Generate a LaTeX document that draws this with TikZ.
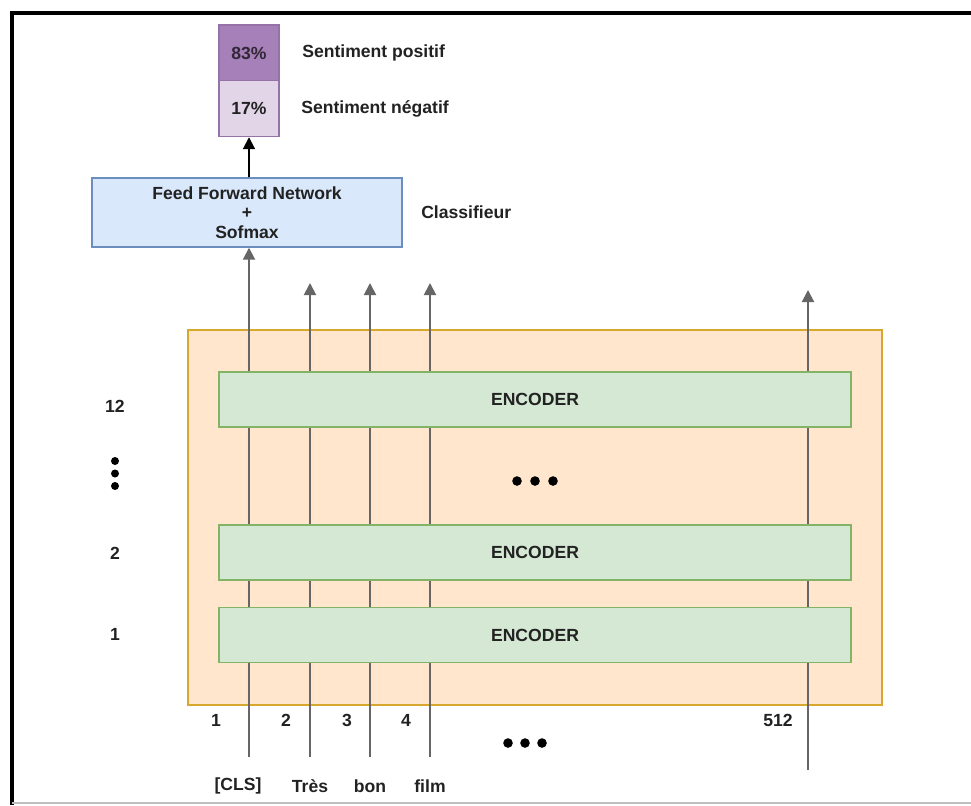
\documentclass[tikz,border=0pt]{standalone}
\usepackage{fontspec}
\setmainfont{Liberation Sans}
\usepackage[HTML]{xcolor}
\usetikzlibrary{positioning, arrows.meta}

\definecolor{posfill}{HTML}{A680B8}
\definecolor{negfill}{HTML}{E1D5E7}
\definecolor{purpline}{HTML}{9673A6}
\definecolor{ffnfill}{HTML}{DAE8FC}
\definecolor{ffnline}{HTML}{6C8EBF}
\definecolor{bertfill}{HTML}{FFE6CC}
\definecolor{bertline}{HTML}{D6A82E}
\definecolor{encfill}{HTML}{D5E8D4}
\definecolor{encline}{HTML}{82B366}
\definecolor{flow}{HTML}{666666}
\definecolor{txt}{HTML}{222222}

\begin{document}
\begin{tikzpicture}[x=0.025cm,y=-0.025cm,
  font=\bfseries\fontsize{12.5}{14}\selectfont, text=txt,
  outcell/.style={draw=purpline, line width=1pt, minimum width=1.5cm, minimum height=1.4cm, inner sep=0pt},
  encbox/.style={draw=encline, fill=encfill, line width=1pt, minimum width=15.8cm, minimum height=1.375cm, inner sep=0pt},
  tokarrow/.style={draw=flow, line width=1.4pt, -{Triangle[length=3mm,width=3mm]}}]
\useasboundingbox (0,0) rectangle (971,805);
\fill[white] (0,0) rectangle (971,805);
% frame
\draw[line width=3pt] (12,805) -- (12,13) -- (971,13);
\draw[gray!50, line width=1pt] (12,803) -- (971,803);

% output probabilities
\node[outcell, fill=posfill, text=posfill!30!black] (pos) at (249,53) {83\%};
\node[outcell, fill=negfill] (neg) at (249,108.5) {17\%};
\node[anchor=west, inner sep=0pt] (poslab) at (302,53) {Sentiment positif};
\node[anchor=west, inner sep=0pt] (neglab) at (301,109) {Sentiment négatif};

% classifier
\node[draw=ffnline, fill=ffnfill, line width=1pt, minimum width=7.75cm, minimum height=1.725cm,
  align=center, inner sep=0pt] (ffn) at (247,212.5) {Feed Forward Network\\+\\Sofmax};
\node[anchor=west, inner sep=0pt] (clf) at (421,212) {Classifieur};
\draw[line width=1.4pt, -{Triangle[length=3mm,width=3mm]}] (ffn.north -| neg) -- (neg.south);

% BERT block
\node[draw=bertline, fill=bertfill, line width=1.6pt, minimum width=17.35cm, minimum height=9.375cm,
  inner sep=0pt] (bert) at (535,517.5) {};

% tokens
\node (cls) at (238,786) {[CLS]};
\node (tres) at (310,786) {Très};
\node (bon) at (370,786) {bon};
\node (film) at (430,786) {film};
\coordinate (in1) at (249,757);
\coordinate (in2) at (310,757);
\coordinate (in3) at (370,757);
\coordinate (in4) at (430,757);
\coordinate (in512) at (808,770);
\coordinate (out2) at (310,283);
\coordinate (out3) at (370,283);
\coordinate (out4) at (430,283);
\coordinate (out512) at (808,290);

\draw[tokarrow] (in1) -- (in1 |- ffn.south);
\draw[tokarrow] (in2) -- (out2);
\draw[tokarrow] (in3) -- (out3);
\draw[tokarrow] (in4) -- (out4);
\draw[tokarrow] (in512) -- (out512);

% encoder stack
\node[encbox] (enc12) at (535,399.5) {ENCODER};
\node[encbox] (enc2) at (535,552.5) {ENCODER};
\node[encbox] (enc1) at (535,635) {ENCODER};
\foreach \x in {517,535,553} \fill (\x,481) circle[radius=0.12cm];

% layer numbers
\node (l12) at (115,406) {12};
\node (l2) at (115,553) {2};
\node (l1) at (115,634) {1};
\foreach \y in {461,473.5,486} \fill (115,\y) circle[radius=0.1cm];

% positions
\node (p1) at (216,720) {1};
\node (p2) at (286,720) {2};
\node (p3) at (347,720) {3};
\node (p4) at (406,720) {4};
\node (p512) at (778,720) {512};
\foreach \x in {508,525,542} \fill (\x,743) circle[radius=0.12cm];
\end{tikzpicture}
\end{document}
